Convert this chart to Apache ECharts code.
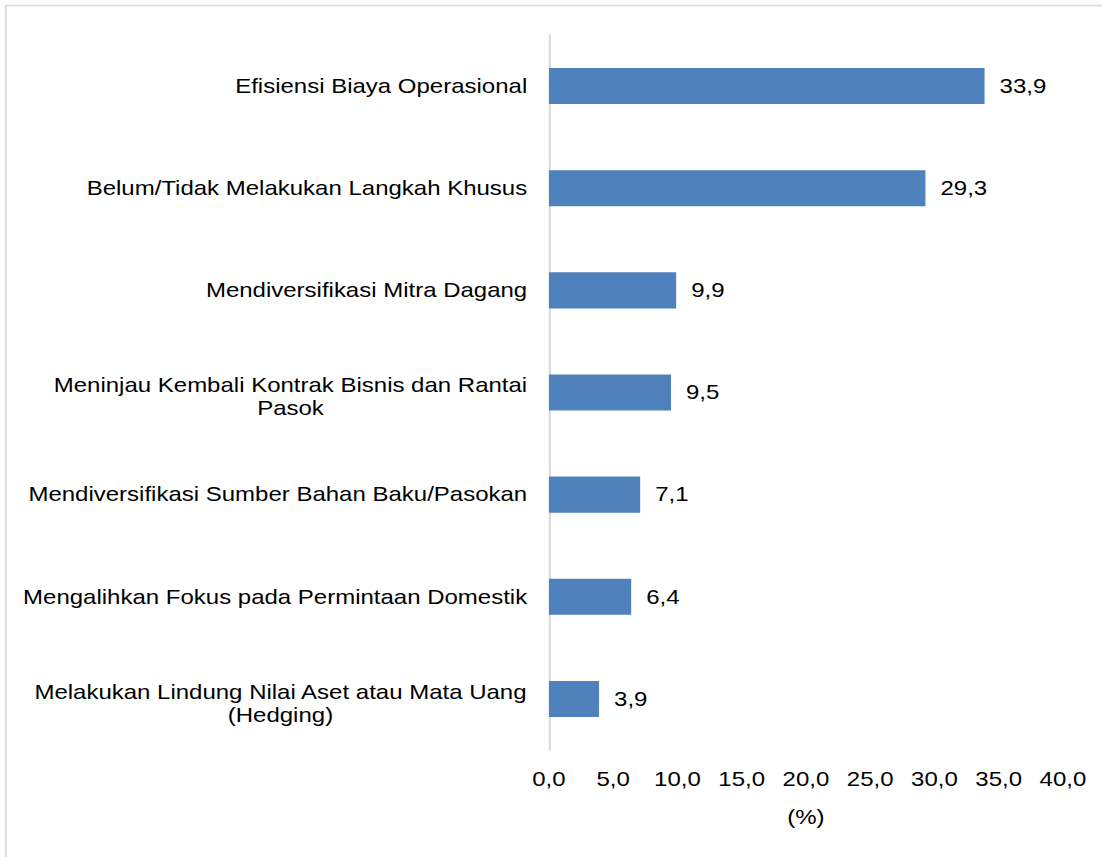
<!DOCTYPE html>
<html>
<head>
<meta charset="utf-8">
<script src="https://cdn.jsdelivr.net/npm/echarts@6/dist/echarts.min.js"></script>
<style>
  html, body { margin: 0; padding: 0; background: #ffffff; overflow: hidden; }
  #wrap { width: 1102px; height: 857px; overflow: hidden; }
  #chart { width: 918px; height: 857px; transform: scaleX(1.2004); transform-origin: 0 0; }
</style>
</head>
<body>
<div id="wrap"><div id="chart"></div></div>
<script>
// ---- data ----
const categories = [
  'Efisiensi Biaya Operasional',
  'Belum/Tidak Melakukan Langkah Khusus',
  'Mendiversifikasi Mitra Dagang',
  'Meninjau Kembali Kontrak Bisnis dan Rantai\nPasok',
  'Mendiversifikasi Sumber Bahan Baku/Pasokan',
  'Mengalihkan Fokus pada Permintaan Domestik',
  'Melakukan Lindung Nilai Aset atau Mata Uang\n(Hedging)'
];
const values = [33.9, 29.3, 9.9, 9.5, 7.1, 6.4, 3.9];
const axisMin = 0;
const axisMax = 40;
const axisStep = 5;
const axisName = '(%)';

const FONT = '"Liberation Sans", Arial, Helvetica, sans-serif';
const fmt = v => Number(v).toFixed(1).replace('.', ',');

// wrapped labels sit slightly lower in the reference
const categoryItems = categories.map(c =>
  c.indexOf('\n') >= 0 ? { value: c, textStyle: { padding: [9, 0, 0, 0] } } : c
);

const chart = echarts.init(document.getElementById('chart'), null, { renderer: 'svg' });
chart.setOption({
  backgroundColor: '#ffffff',
  animation: false,
  graphic: [{
    type: 'rect',
    silent: true,
    z: -1,
    shape: { x: 4.8, y: 5.5, width: 2000, height: 2000 },
    style: { fill: 'none', stroke: '#d9d9d9', lineWidth: 1.6 }
  }],
  grid: { left: 457.3, right: 32.5, top: 35, bottom: 107, containLabel: false },
  xAxis: {
    type: 'value',
    min: axisMin,
    max: axisMax,
    interval: axisStep,
    name: axisName,
    nameLocation: 'middle',
    nameGap: 57,
    nameTextStyle: { fontFamily: FONT, fontSize: 20, color: '#000000' },
    axisLine: { show: false },
    axisTick: { show: false },
    splitLine: { show: false },
    axisLabel: {
      margin: 19,
      fontFamily: FONT,
      fontSize: 20,
      color: '#000000',
      formatter: v => fmt(v)
    }
  },
  yAxis: {
    type: 'category',
    data: categoryItems,
    inverse: true,
    axisLine: { show: true, lineStyle: { color: '#d9d9d9', width: 1.7 } },
    axisTick: { show: false },
    splitLine: { show: false },
    axisLabel: {
      margin: 18,
      fontFamily: FONT,
      fontSize: 20,
      lineHeight: 23,
      color: '#000000',
      align: 'right',
      formatter: v => v.split('\n').map(l => '{c|' + l + '}').join('\n'),
      rich: {
        c: { align: 'center', fontFamily: FONT, fontSize: 20, lineHeight: 23, color: '#000000' }
      }
    }
  },
  series: [{
    type: 'bar',
    data: values,
    barCategoryGap: '64.7%',
    itemStyle: { color: '#4f81bd' },
    label: {
      show: true,
      position: 'right',
      distance: 12.5,
      fontFamily: FONT,
      fontSize: 20,
      color: '#000000',
      formatter: p => fmt(p.value)
    }
  }]
});
</script>
</body>
</html>
